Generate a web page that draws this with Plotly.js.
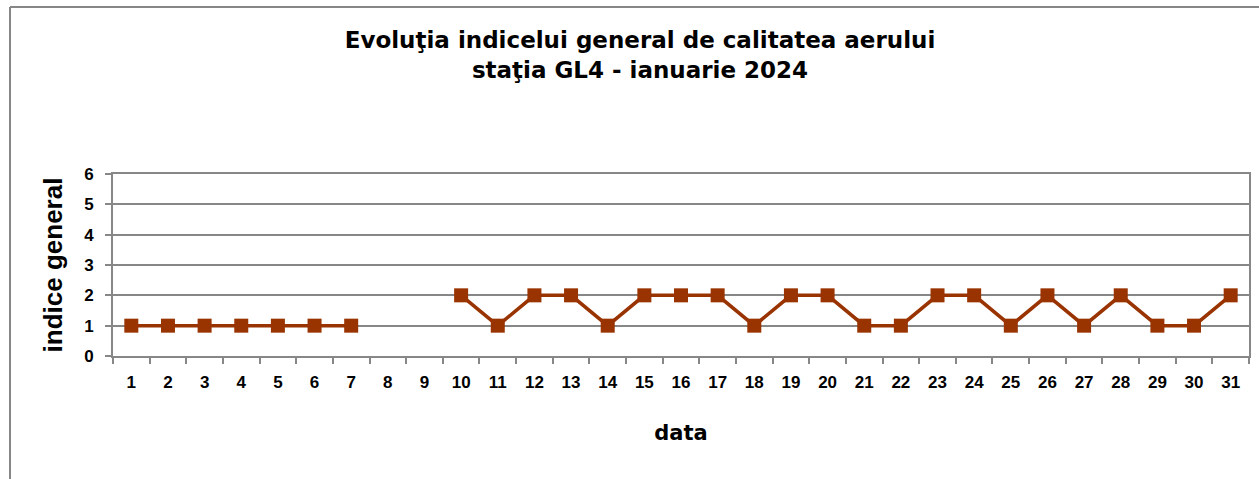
<!DOCTYPE html>
<html>
<head>
<meta charset="utf-8">
<script src="https://cdn.plot.ly/plotly-3.0.1.min.js"></script>
<style>
html,body{margin:0;padding:0;background:#fff;}
#chart{width:1259px;height:479px;}
</style>
</head>
<body>
<div id="chart"></div>
<script>
const days = ["1","2","3","4","5","6","7","8","9","10","11","12","13","14","15","16","17","18","19","20","21","22","23","24","25","26","27","28","29","30","31"];
const indice = [1,1,1,1,1,1,1,null,null,2,1,2,2,1,2,2,2,1,2,2,1,1,2,2,1,2,1,2,1,1,2];
const yTicks = [0,1,2,3,4,5,6];
const chartTitle = "Evoluţia indicelui general de calitatea aerului<br>staţia GL4 - ianuarie 2024";
const xTitle = "data";
const yTitle = "indice general";

const gray = "#878787";
const brown = "#993300";

const trace = {
  x: days,
  y: indice,
  type: "scatter",
  mode: "lines+markers",
  connectgaps: false,
  line: {color: brown, width: 3.5},
  marker: {symbol: "square", size: 14, color: brown},
  hoverinfo: "skip"
};

const layout = {
  width: 1259,
  height: 479,
  margin: {l: 113, r: 10, t: 174, b: 123},
  paper_bgcolor: "#ffffff",
  plot_bgcolor: "#ffffff",
  showlegend: false,
  title: {
    text: chartTitle,
    font: {family: "DejaVu Sans", size: 23, weight: "bold", color: "#000"},
    xref: "container", x: 640/1259, xanchor: "center",
    yref: "container", y: 1 - 48/479, yanchor: "top"
  },
  xaxis: {
    type: "category",
    tickvals: days,
    ticktext: days,
    range: [-0.5, 30.5],
    showgrid: false,
    zeroline: false,
    showline: true, linecolor: gray, linewidth: 2,
    mirror: true,
    ticks: "outside", tickson: "boundaries", ticklen: 6, tickwidth: 2, tickcolor: gray,
    ticklabelstandoff: 10,
    tickfont: {family: "Liberation Sans, Arial, sans-serif", size: 17, weight: "bold", color: "#000"},
    title: {text: xTitle, standoff: 34, font: {family: "DejaVu Sans", size: 21, weight: "bold", color: "#000"}},
    automargin: false
  },
  yaxis: {
    range: [0, 6],
    tickvals: yTicks,
    showgrid: true, gridcolor: gray, gridwidth: 2,
    zeroline: false,
    showline: true, linecolor: gray, linewidth: 2,
    mirror: true,
    ticks: "outside", ticklen: 6, tickwidth: 2, tickcolor: gray,
    ticklabelstandoff: 8,
    tickfont: {family: "Liberation Sans, Arial, sans-serif", size: 17, weight: "bold", color: "#000"},
    title: {text: yTitle, standoff: 14, font: {family: "Liberation Sans, Arial, sans-serif", size: 26, weight: "bold", color: "#000"}},
    automargin: false
  },
  shapes: [
    {type: "line", xref: "paper", yref: "paper", x0: (10-113)/1136, x1: (10-113)/1136, y0: (356-7)/182, y1: (356-485)/182, line: {color: gray, width: 2}},
    {type: "line", xref: "paper", yref: "paper", x0: (10-113)/1136, x1: (1265-113)/1136, y0: (356-7)/182, y1: (356-7)/182, line: {color: gray, width: 2}}
  ]
};

Plotly.newPlot("chart", [trace], layout, {staticPlot: true, displayModeBar: false});
</script>
</body>
</html>
